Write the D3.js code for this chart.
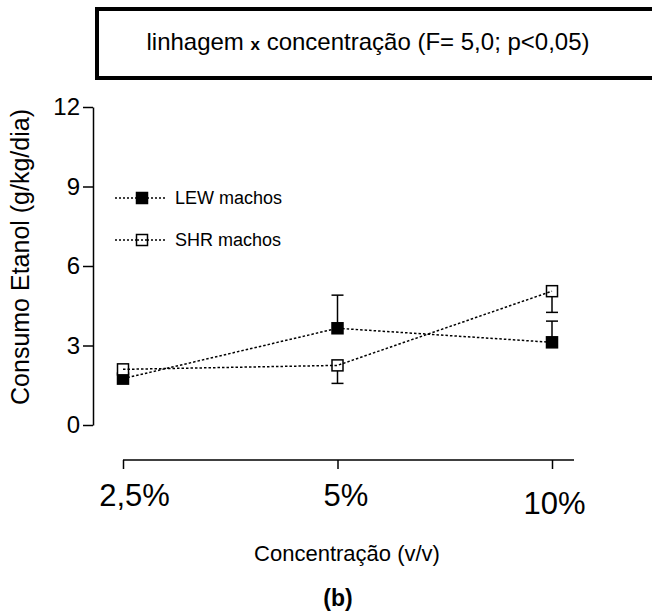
<!DOCTYPE html>
<html>
<head>
<meta charset="utf-8">
<script src="https://cdn.jsdelivr.net/npm/d3@7"></script>
<style>
  body { margin: 0; background: #fff; }
  text { font-family: "Liberation Sans", Arial, sans-serif; fill: #000; }
</style>
</head>
<body>
<script>
// data
var categories = ["2,5%", "5%", "10%"];
var lewMean = [1.75, 3.65, 3.12];
var lewErr  = [0.15, 1.25, 0.80];
var shrMean = [2.10, 2.25, 5.05];
var shrErr  = [0.15, 0.68, 0.80];
var yTicks  = [0, 3, 6, 9, 12];

var w = 652, h = 615;

var svg = d3.select("body")
	.append("svg")
	.attr("width", w)
	.attr("height", h);

var x = d3.scalePoint().domain(categories).range([123, 552]);
var y = d3.scaleLinear().domain([0, 12]).range([425, 107]);

// title box
svg.append("rect")
	.attr("x", 97).attr("y", 9)
	.attr("width", 600).attr("height", 69)
	.attr("fill", "#fff")
	.attr("stroke", "#000")
	.attr("stroke-width", 4);

var title = svg.append("text")
	.attr("x", 368).attr("y", 50)
	.attr("text-anchor", "middle")
	.style("font-size", "24px");
title.append("tspan").text("linhagem ");
title.append("tspan").text("x").style("font-weight", "bold").style("font-size", "17px");
title.append("tspan").text(" concentração (F= 5,0; p<0,05)");

// y axis
var yAxis = svg.append("g")
	.attr("transform", "translate(93,0)")
	.call(d3.axisLeft(y).tickValues(yTicks).tickSize(10).tickSizeOuter(0).tickPadding(3));
yAxis.selectAll("text").style("font-size", "24px");

// x axis
var xAxis = svg.append("g")
	.attr("transform", "translate(0,460)")
	.call(d3.axisBottom(x).tickSize(9).tickSizeOuter(0).tickPadding(12));
xAxis.select(".domain").attr("d", "M123,0H574");
var labelShift = [11, 8, 2];
xAxis.selectAll(".tick text")
	.style("font-size", "31px")
	.attr("dx", function(d, i) { return labelShift[i]; })
	.attr("dy", function(d, i) { return i === 2 ? "1.05em" : "0.82em"; });

svg.selectAll(".domain, .tick line").attr("stroke", "#000").attr("stroke-width", 1.5);

// axis titles
svg.append("text")
	.attr("transform", "translate(29,257) rotate(-90)")
	.attr("text-anchor", "middle")
	.style("font-size", "25px")
	.text("Consumo Etanol (g/kg/dia)");

svg.append("text")
	.attr("x", 347).attr("y", 561)
	.attr("text-anchor", "middle")
	.style("font-size", "22px")
	.text("Concentração (v/v)");

svg.append("text")
	.attr("x", 338).attr("y", 606)
	.attr("text-anchor", "middle")
	.style("font-size", "23px")
	.style("font-weight", "bold")
	.text("(b)");

// series
var series = [
	{ name: "LEW machos", mean: lewMean, err: lewErr, dir: 1, fill: "#000" },
	{ name: "SHR machos", mean: shrMean, err: shrErr, dir: -1, fill: "#fff" }
];
var ms = 11;

var line = d3.line()
	.x(function(d, i) { return x(categories[i]); })
	.y(function(d) { return y(d); });

series.forEach(function(s) {
	var g = svg.append("g");
	// error bars, one-sided
	s.mean.forEach(function(m, i) {
		var cx = x(categories[i]);
		var yEnd = y(m + s.dir * s.err[i]);
		g.append("line")
			.attr("x1", cx).attr("x2", cx)
			.attr("y1", y(m)).attr("y2", yEnd)
			.attr("stroke", "#000").attr("stroke-width", 1.5);
		g.append("line")
			.attr("x1", cx - 6).attr("x2", cx + 6)
			.attr("y1", yEnd).attr("y2", yEnd)
			.attr("stroke", "#000").attr("stroke-width", 1.5);
	});
	g.selectAll("rect")
		.data(s.mean)
		.enter()
		.append("rect")
		.attr("x", function(d, i) { return x(categories[i]) - ms / 2; })
		.attr("y", function(d) { return y(d) - ms / 2; })
		.attr("width", ms).attr("height", ms)
		.attr("fill", s.fill)
		.attr("stroke", "#000").attr("stroke-width", 1.5);
	g.append("path")
		.datum(s.mean)
		.attr("d", line)
		.attr("fill", "none")
		.attr("stroke", "#000")
		.attr("stroke-width", 1.5)
		.attr("stroke-dasharray", "2.5,2");
});

// legend
var legY = [198, 240];
series.forEach(function(s, i) {
	var lg = svg.append("g").attr("transform", "translate(0," + legY[i] + ")");
	lg.append("line")
		.attr("x1", 115).attr("x2", 167)
		.attr("stroke", "#000").attr("stroke-width", 1.5)
		.attr("stroke-dasharray", "2,2");
	lg.append("rect")
		.attr("x", 142 - ms / 2).attr("y", -ms / 2)
		.attr("width", ms).attr("height", ms)
		.attr("fill", s.fill)
		.attr("stroke", "#000").attr("stroke-width", 1.5);
	if (i === 1) {
		lg.append("line")
			.attr("x1", 137).attr("x2", 147)
			.attr("stroke", "#000").attr("stroke-width", 1.5)
			.attr("stroke-dasharray", "2,2");
	}
	lg.append("text")
		.attr("x", 175).attr("y", 6)
		.style("font-size", "18px")
		.text(s.name);
});
</script>
</body>
</html>
